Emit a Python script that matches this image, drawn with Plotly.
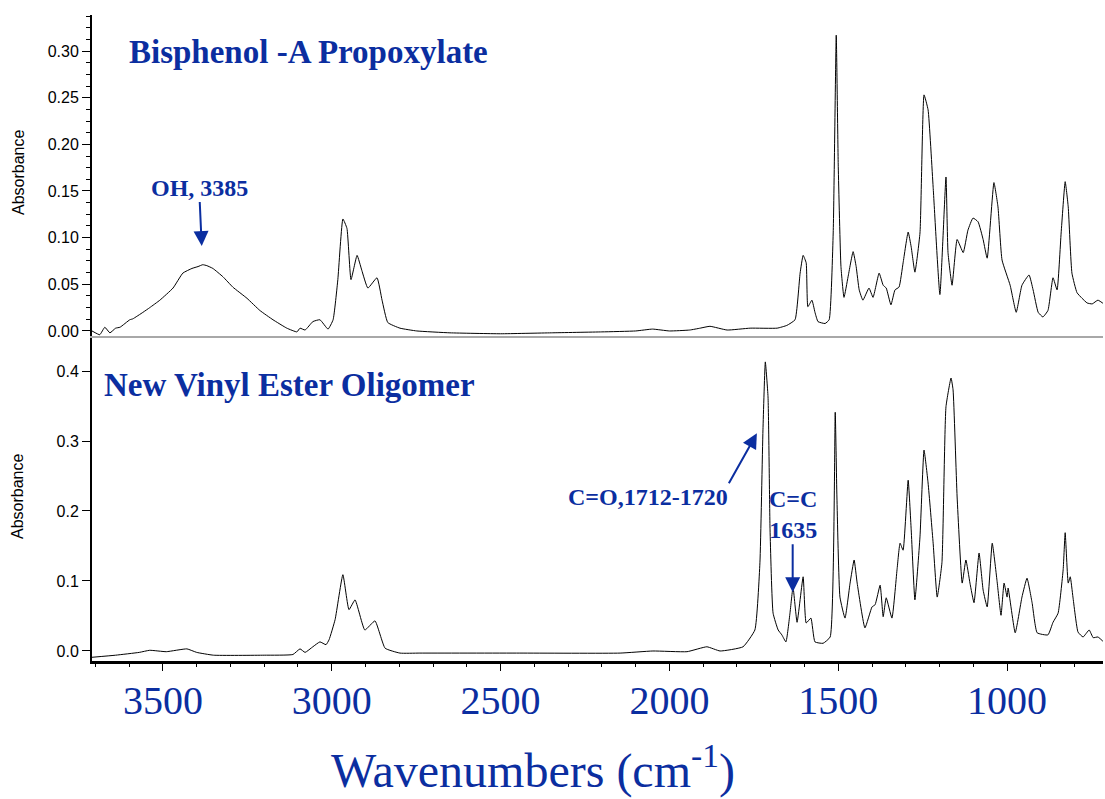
import plotly.graph_objects as go

# ---------------- data ----------------
top_wn = [3710, 3687, 3672, 3657, 3640, 3627, 3598, 3589, 3559, 3539, 3509, 3470, 3441, 3414, 3396,
          3382, 3370, 3352, 3322, 3293, 3251, 3213, 3174, 3133, 3103, 3094, 3079, 3056, 3035, 3011,
          2996, 2982, 2967, 2955, 2943, 2925, 2911, 2893, 2866, 2851, 2834, 2798, 2748, 2650, 2500,
          2350, 2200, 2100, 2050, 2000, 1940, 1909, 1880, 1829, 1761, 1681, 1652, 1628, 1613, 1604,
          1595, 1590, 1578, 1569, 1560, 1539, 1527, 1515, 1506, 1500, 1492, 1483, 1471, 1456, 1447,
          1438, 1427, 1409, 1397, 1379, 1367, 1358, 1344, 1332, 1320, 1308, 1293, 1284, 1273, 1258,
          1246, 1234, 1219, 1199, 1181, 1175, 1163, 1148, 1130, 1116, 1101, 1086, 1071, 1059, 1039,
          1027, 1015, 991, 973, 956, 935, 923, 908, 894, 879, 864, 852, 840, 828, 819,
          808, 793, 778, 763, 748, 731, 710]
top_abs = [0.000, -0.004, 0.004, -0.002, 0.003, 0.004, 0.012, 0.013, 0.020, 0.025, 0.033, 0.046, 0.062, 0.067, 0.069,
           0.071, 0.070, 0.067, 0.058, 0.047, 0.035, 0.022, 0.012, 0.003, -0.001, 0.003, 0.001, 0.010, 0.012, 0.002,
           0.012, 0.055, 0.120, 0.110, 0.055, 0.081, 0.065, 0.046, 0.057, 0.033, 0.009, 0.003, 0.000, -0.002, -0.003,
           -0.002, -0.001, 0.000, 0.002, 0.000, 0.001, 0.003, 0.005, 0.001, 0.003, 0.003, 0.006, 0.012, 0.062, 0.081,
           0.073, 0.026, 0.033, 0.020, 0.010, 0.008, 0.012, 0.105, 0.317, 0.176, 0.069, 0.036, 0.058, 0.085, 0.069,
           0.044, 0.033, 0.046, 0.036, 0.062, 0.049, 0.046, 0.028, 0.044, 0.047, 0.073, 0.106, 0.090, 0.063, 0.105,
           0.253, 0.237, 0.154, 0.039, 0.165, 0.084, 0.049, 0.098, 0.084, 0.108, 0.121, 0.117, 0.098, 0.078, 0.159,
           0.133, 0.076, 0.049, 0.020, 0.049, 0.060, 0.044, 0.020, 0.015, 0.022, 0.057, 0.044, 0.105, 0.160, 0.133,
           0.062, 0.041, 0.035, 0.030, 0.029, 0.033, 0.028]

bot_wn = [3710, 3640, 3570, 3539, 3490, 3429, 3400, 3350, 3200, 3115, 3094, 3079, 3056, 3035, 3017,
          3008, 2990, 2967, 2949, 2931, 2902, 2872, 2842, 2798, 2739, 2443, 2146, 2049, 1948, 1889,
          1850, 1782, 1747, 1732, 1723, 1716, 1708, 1702, 1693, 1678, 1667, 1655, 1643, 1634, 1622,
          1604, 1595, 1581, 1569, 1545, 1524, 1509, 1504, 1495, 1480, 1465, 1453, 1444, 1421, 1400,
          1391, 1376, 1367, 1358, 1341, 1326, 1317, 1308, 1293, 1284, 1273, 1258, 1246, 1234, 1219,
          1207, 1193, 1181, 1166, 1160, 1148, 1133, 1122, 1110, 1098, 1083, 1071, 1059, 1044, 1030,
          1018, 1009, 1000, 997, 976, 956, 941, 926, 911, 879, 864, 849, 834, 828, 819,
          813, 805, 790, 775, 757, 745, 731, 710]
bot_abs = [-0.009, -0.006, -0.002, 0.001, -0.001, 0.003, -0.002, -0.006, -0.006, -0.005, 0.003, -0.002, 0.006, 0.013, 0.009,
           0.016, 0.045, 0.109, 0.059, 0.073, 0.030, 0.043, 0.004, -0.003, -0.003, -0.003, -0.003, 0.000, -0.001, 0.006,
           0.000, 0.006, 0.030, 0.126, 0.316, 0.413, 0.363, 0.173, 0.054, 0.030, 0.023, 0.013, 0.054, 0.091, 0.041,
           0.106, 0.040, 0.047, 0.013, 0.011, 0.020, 0.341, 0.220, 0.077, 0.047, 0.097, 0.130, 0.097, 0.033, 0.063,
           0.066, 0.094, 0.049, 0.076, 0.047, 0.116, 0.154, 0.144, 0.244, 0.173, 0.073, 0.163, 0.287, 0.240, 0.154,
           0.077, 0.126, 0.349, 0.390, 0.373, 0.220, 0.097, 0.130, 0.097, 0.069, 0.140, 0.087, 0.063, 0.154, 0.101,
           0.051, 0.097, 0.077, 0.090, 0.026, 0.077, 0.104, 0.069, 0.026, 0.023, 0.041, 0.054, 0.116, 0.169, 0.097,
           0.106, 0.077, 0.027, 0.020, 0.030, 0.019, 0.020, 0.011]

x_ticks = [3500, 3000, 2500, 2000, 1500, 1000]
top_title = "Bisphenol -A Propoxylate"
bot_title = "New Vinyl Ester Oligomer"

BLUE = "#0B2EA0"
SERIF = "Times New Roman, Liberation Serif, serif"
SANS = "Arial, Liberation Sans, sans-serif"

fig = go.Figure()
fig.add_trace(go.Scatter(x=top_wn, y=top_abs, mode="lines", xaxis="x2", yaxis="y2",
                         line=dict(color="black", width=1, shape="spline", smoothing=0.4),
                         showlegend=False, hoverinfo="skip"))
fig.add_trace(go.Scatter(x=bot_wn, y=bot_abs, mode="lines", xaxis="x", yaxis="y",
                         line=dict(color="black", width=1, shape="spline", smoothing=0.4),
                         showlegend=False, hoverinfo="skip"))

split = 325 / 646

fig.update_layout(
    width=1105, height=799,
    margin=dict(l=92, r=2, t=15, b=138),
    paper_bgcolor="white", plot_bgcolor="white",
    xaxis=dict(domain=[0, 1], anchor="y", range=[3710, 716], showgrid=False, zeroline=False,
               showline=True, linecolor="black", linewidth=2.5,
               ticks="outside", ticklen=7, tickwidth=1, tickcolor="black",
               tickvals=x_ticks, ticktext=[str(v) for v in x_ticks],
               tickfont=dict(family=SERIF, size=40, color=BLUE),
               ticklabelstandoff=-5,
               minor=dict(ticks="outside", ticklen=3, tickwidth=1, tickcolor="black", dtick=100, tick0=0,
                          showgrid=False)),
    xaxis2=dict(domain=[0, 1], anchor="y2", matches="x", range=[3710, 716], showgrid=False, zeroline=False,
                showline=True, linecolor="#a8a8a8", linewidth=2, ticks="", showticklabels=False),
    yaxis=dict(domain=[0, split], anchor="x", range=[-0.0143, 0.45], showgrid=False, zeroline=False,
               showline=True, linecolor="black", linewidth=2,
               ticks="outside", ticklen=8, tickwidth=1, tickcolor="black",
               tick0=0, dtick=0.1, tickformat=".1f",
               tickfont=dict(family=SANS, size=16, color="black")),
    yaxis2=dict(domain=[split, 1], anchor="x2", range=[-0.0054, 0.3386], showgrid=False, zeroline=False,
                showline=True, linecolor="black", linewidth=2,
                ticks="outside", ticklen=8, tickwidth=1, tickcolor="black",
                tick0=0, dtick=0.05, tickformat=".2f",
                tickfont=dict(family=SANS, size=16, color="black"),
                minor=dict(ticks="outside", ticklen=4, tickwidth=1, tickcolor="black", dtick=0.0125, tick0=0,
                           showgrid=False)),
)

def px(xp):
    return (xp - 92) / 1011

def py(yp):
    return (661 - yp) / 646

ann = []
# panel titles
ann.append(dict(text=f"<b>{top_title}</b>", x=px(127), y=py(52), xref="paper", yref="paper",
                xanchor="left", yanchor="middle", showarrow=False,
                font=dict(family=SERIF, size=33, color=BLUE)))
ann.append(dict(text=f"<b>{bot_title}</b>", x=px(102), y=py(385), xref="paper", yref="paper",
                xanchor="left", yanchor="middle", showarrow=False,
                font=dict(family=SERIF, size=33, color=BLUE)))
# y titles
for yy in (173, 497):
    ann.append(dict(text="Absorbance", x=px(18), y=py(yy), xref="paper", yref="paper",
                    xanchor="center", yanchor="middle", textangle=-90, showarrow=False,
                    font=dict(family=SANS, size=16, color="black")))
# x title
ann.append(dict(text="Wavenumbers (cm<sup>-1</sup>)", x=px(533), y=py(767), xref="paper", yref="paper",
                xanchor="center", yanchor="middle", showarrow=False,
                font=dict(family=SERIF, size=48, color=BLUE)))

# peak labels with arrows (arrow head at the band, text anchored at the arrow tail)
lab_font = dict(family=SERIF, size=24, color=BLUE)
arrow_style = dict(showarrow=True, arrowhead=2, arrowsize=1.5, arrowwidth=2, arrowcolor=BLUE,
                   standoff=0, startstandoff=0, font=lab_font, borderpad=0)
ann.append(dict(text="<b>OH, 3385</b>", x=3385, y=0.091, xref="x2", yref="y2", ax=-2, ay=-44,
                xanchor="center", yanchor="bottom", **arrow_style))
ann.append(dict(text="<b>C=O,1712-1720</b>", x=1741, y=0.311, xref="x", yref="y", ax=-28, ay=50,
                xanchor="right", yanchor="top", **arrow_style))
ann.append(dict(text="<b>C=C<br>1635</b>", x=1635, y=0.084, xref="x", yref="y", ax=0, ay=-48,
                xanchor="center", yanchor="bottom", align="center", **arrow_style))

fig.update_layout(annotations=ann)

fig.write_html("out.html")
